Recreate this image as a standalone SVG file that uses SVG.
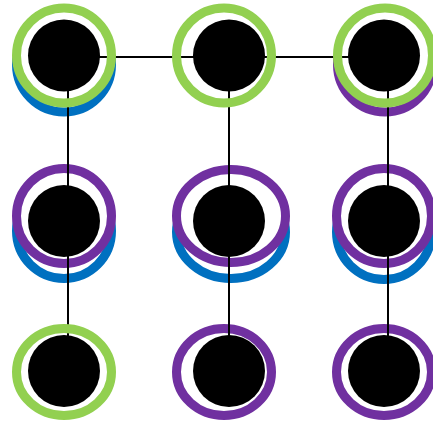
<svg xmlns="http://www.w3.org/2000/svg" width="433" height="431" viewBox="0 0 433 431">
  <style>
    .ring { fill: #ffffff; stroke-width: 9; }
    .hole { fill: #ffffff; stroke: none; }
    .front { fill: none; stroke-width: 9; }
    .green { stroke: #92D050; }
    .blue { stroke: #0070C0; }
    .purple { stroke: #7030A0; }
    .core { fill: #000000; }
    .link { stroke: #000000; stroke-width: 2; fill: none; }
  </style>
  <rect width="433" height="431" fill="#ffffff"/>

  <!-- back rings (lower layer) -->
  <g id="back-rings">
    <circle class="ring blue" cx="64" cy="64.5" r="47.5"/>
    <circle class="ring purple" cx="385" cy="64.5" r="47.5"/>
    <circle class="ring blue" cx="64" cy="231" r="47.5"/>
    <ellipse class="ring blue" cx="231" cy="232" rx="54.5" ry="46.5"/>
    <circle class="ring blue" cx="384" cy="232" r="47.5"/>
    <!-- white interiors of the front green rings -->
    <circle class="hole" cx="64" cy="55.5" r="47.5"/>
    <circle class="hole" cx="224" cy="55.5" r="47.5"/>
    <circle class="hole" cx="385" cy="55.5" r="47.5"/>
    <ellipse class="hole" cx="64" cy="372" rx="47.5" ry="43.5"/>
    <!-- purple rings of middle and bottom rows -->
    <circle class="ring purple" cx="64" cy="216" r="47.5"/>
    <ellipse class="ring purple" cx="231" cy="216" rx="54.5" ry="46.5"/>
    <circle class="ring purple" cx="384" cy="216" r="47.5"/>
    <ellipse class="ring purple" cx="224" cy="372" rx="47.5" ry="43.5"/>
    <ellipse class="ring purple" cx="384" cy="372" rx="47.5" ry="43.5"/>
  </g>

  <g id="connectors">
    <line class="link" x1="64" y1="57" x2="388" y2="57"/>
    <line class="link" x1="68" y1="57" x2="68" y2="371"/>
    <line class="link" x1="229" y1="57" x2="229" y2="371"/>
    <line class="link" x1="388" y1="57" x2="388" y2="371"/>
  </g>

  <g id="n1">
    <circle class="front green" cx="64" cy="55.5" r="47.5"/>
    <circle class="core" cx="64" cy="55.5" r="36"/>
  </g>
  <g id="n2">
    <circle class="front green" cx="224" cy="55.5" r="47.5"/>
    <circle class="core" cx="229" cy="55.5" r="36"/>
  </g>
  <g id="n3">
    <circle class="front green" cx="385" cy="55.5" r="47.5"/>
    <circle class="core" cx="384" cy="55.5" r="36"/>
  </g>
  <g id="n4">
    <circle class="core" cx="64" cy="221" r="36"/>
  </g>
  <g id="n5">
    <circle class="core" cx="229" cy="221" r="36"/>
  </g>
  <g id="n6">
    <circle class="core" cx="384" cy="221" r="36"/>
  </g>
  <g id="n7">
    <ellipse class="front green" cx="64" cy="372" rx="47.5" ry="43.5"/>
    <circle class="core" cx="64" cy="371" r="36"/>
  </g>
  <g id="n8">
    <circle class="core" cx="229" cy="371" r="36"/>
  </g>
  <g id="n9">
    <circle class="core" cx="384" cy="371" r="36"/>
  </g>
</svg>
